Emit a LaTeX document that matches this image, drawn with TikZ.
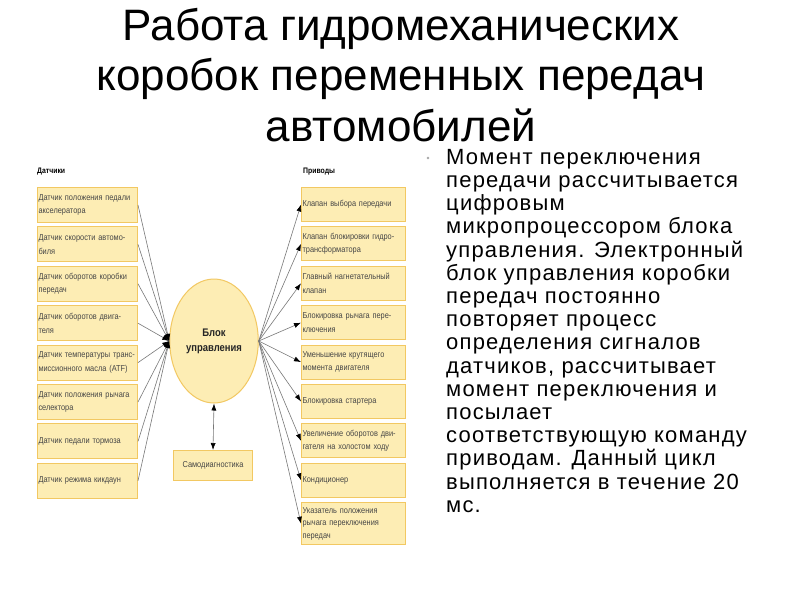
\documentclass[tikz,border=0pt]{standalone}
\usepackage{fontspec}
\setmainfont{Liberation Sans}
\newfontfamily\boxfont[FakeStretch=0.86]{Liberation Sans}
\newfontfamily\bodyfont[LetterSpace=5.5]{Liberation Sans}
\usetikzlibrary{arrows.meta,shapes.geometric}
\definecolor{boxfill}{RGB}{253,237,180}
\definecolor{boxedge}{RGB}{242,200,98}
\definecolor{linegray}{RGB}{120,120,120}
\definecolor{boxtext}{RGB}{70,70,70}
\tikzset{
  sbox/.style={draw=boxedge,line width=1pt,fill=boxfill,minimum width=100pt,minimum height=35pt,
    text width=98pt,align=left,inner xsep=1pt,inner ysep=1.5pt,font=\boxfont\fontsize{8.6}{13.5}\selectfont,text=boxtext,anchor=north west},
  abox/.style={sbox,minimum width=104pt,text width=102pt,minimum height=34pt},
  hdr/.style={font=\boxfont\bfseries\fontsize{8}{10}\selectfont,anchor=west,text=black,inner sep=0pt},
  conn/.style={draw=linegray,line width=0.6pt,-{Latex[length=7pt,width=5pt,black]}},
}
\begin{document}
\begin{tikzpicture}[x=1pt,y=-1pt]
\useasboundingbox[fill=white] (0,0) rectangle (800,600);
% title
\node[font=\fontsize{44}{50.7}\selectfont,align=center,inner sep=0pt] (title) at (401,75)
  {Работа гидромеханических\\коробок переменных передач\\автомобилей};
% text
\fill[gray!70] (428,158) circle (1.4pt);
\node[font=\bodyfont\fontsize{22}{23.2}\selectfont,align=left,anchor=north west,inner sep=0pt] (body) at (446,149)
  {Момент переключения\\передачи рассчитывается\\цифровым\\микропроцессором блока\\управления. Электронный\\блок управления коробки\\передач постоянно\\повторяет процесс\\определения сигналов\\датчиков, рассчитывает\\момент переключения и\\посылает\\соответствующую команду\\приводам. Данный цикл\\выполняется в течение 20\\мс.};
% headers
\node[hdr] (hs) at (37,172) {Датчики};
\node[hdr] (ha) at (303,172) {Приводы};
% ellipse
\node[ellipse,draw=boxedge,line width=1pt,fill=boxfill,minimum width=86pt,minimum height=124pt,
  font=\boxfont\bfseries\fontsize{11}{15}\selectfont,align=center,text=black!85] (ecu) at (214,341) {Блок\\управления};
% sensors
\node[sbox] (s1) at (37,187.0) {Датчик положения педали\\акселератора};
\node[sbox] (s2) at (37,226.4) {Датчик скорости автомо-\\биля};
\node[sbox] (s3) at (37,265.8) {Датчик оборотов коробки\\передач};
\node[sbox] (s4) at (37,305.2) {Датчик оборотов двига-\\теля};
\node[sbox] (s5) at (37,344.6) {Датчик температуры транс-\\миссионного масла (ATF)};
\node[sbox] (s6) at (37,384.0) {Датчик положения рычага\\селектора};
\node[sbox] (s7) at (37,423.4) {Датчик педали тормоза};
\node[sbox] (s8) at (37,462.8) {Датчик режима кикдаун};
% actuators
\node[abox] (a1) at (301,187.0) {Клапан выбора передачи};
\node[abox] (a2) at (301,226.4) {Клапан блокировки гидро-\\трансформатора};
\node[abox] (a3) at (301,265.8) {Главный нагнетательный\\клапан};
\node[abox] (a4) at (301,305.2) {Блокировка рычага пере-\\ключения};
\node[abox] (a5) at (301,344.6) {Уменьшение крутящего\\момента двигателя};
\node[abox] (a6) at (301,384.0) {Блокировка стартера};
\node[abox] (a7) at (301,423.4) {Увеличение оборотов дви-\\гателя на холостом ходу};
\node[abox] (a8) at (301,462.8) {Кондиционер};
\node[abox,minimum height=42pt,font=\boxfont\fontsize{8.6}{12.5}\selectfont] (a9) at (301,502.2) {Указатель положения\\рычага переключения\\передач};
% self diagnostics
\node[sbox,minimum width=79pt,text width=77pt,minimum height=30pt,align=center] (sd) at (173,450) {Самодиагностика};
% connectors
\coordinate (ein) at (ecu.west);
\coordinate (eout) at (ecu.east);
\foreach \i in {1,...,8} { \draw[conn] (s\i.east) -- (ein); }
\foreach \i in {1,...,9} { \draw[conn] (eout) -- (a\i.west); }
\draw[draw=linegray,line width=0.6pt,{Latex[length=7pt,width=5pt,black]}-{Latex[length=7pt,width=5pt,black]}] (ecu.south) -- (sd.north);
\end{tikzpicture}
\end{document}
